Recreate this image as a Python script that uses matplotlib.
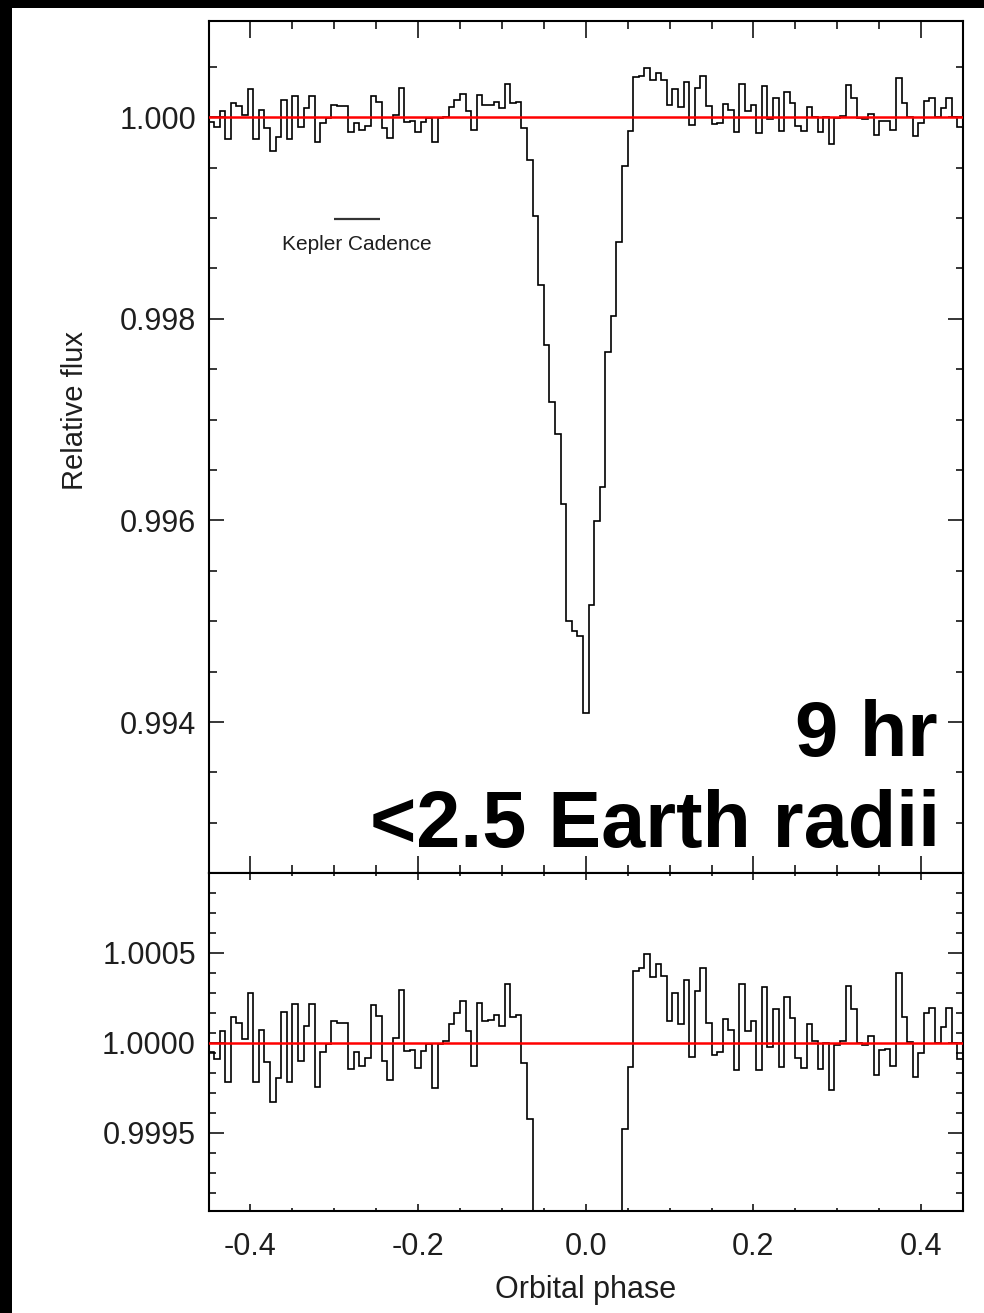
import numpy as np
import matplotlib
matplotlib.use("Agg")
import matplotlib.pyplot as plt
from matplotlib.patches import Rectangle
from matplotlib.ticker import FixedLocator, MultipleLocator

plt.rcParams['font.family'] = ['Liberation Sans', 'DejaVu Sans']

# Phase-folded light curve: 135 bins of width 1/150 in orbital phase
phase_min, phase_max = -0.45, 0.45
n_bins = 135

# Deviation from unit relative flux, in parts per million
pre_transit_ppm = [
    -50, -93, 65, -217, 141, 111, 20, 278, -217, 70,
    -106, -330, -196, 170, -217, 215, -100, 91, 215, -246,
    -52, -6, 119, 109, 109, -144, -52, -131, -85, 211,
    148, -102, -206, 26, 293, -46, -41, -143, -46, -7,
    -250, -6, 7, 102, 167, 230, 65, -131, 220, 122,
    124, 152, 91, 326, 144, 152, -111,
]
transit_ppm = [
    -422, -980, -1664, -2258, -2820, -3140, -3836, -5000, -5095, -5148,
    -5914, -4837, -4009, -3668, -2329, -1972, -1234, -480, -137,
]
post_transit_ppm = [
    398, 413, 493, 367, 435, 369, 122, 276, 102, 350,
    -78, 287, 413, 109, -70, -52, 133, 69, -150, 328,
    65, 119, -152, 307, -22, 187, -133, 252, 139, -87,
    -141, 102, 7, -144, 0, -265, -11, 9, 317, 187,
    -4, -13, 37, -180, -41, -37, -130, 389, 144, 6,
    -189, -56, 163, 194, 0, 89, 194, 0, -93,
]

flux = 1.0 + 1e-6 * np.array(pre_transit_ppm + transit_ppm + post_transit_ppm, dtype=float)
edges = np.linspace(phase_min, phase_max, n_bins + 1)

x_major = [-0.4, -0.2, 0.0, 0.2, 0.4]
x_labels = ['-0.4', '-0.2', '0.0', '0.2', '0.4']
top_yticks = [0.994, 0.996, 0.998, 1.000]
top_ylabels = ['0.994', '0.996', '0.998', '1.000']
bot_yticks = [0.9995, 1.0000, 1.0005]
bot_ylabels = ['0.9995', '1.0000', '1.0005']

top_ylim = (0.9925, 1.000955)
bot_ylim = (0.999065, 1.000941)

cadence_bar = [-0.300, -0.246]   # Kepler long cadence, in phase units
cadence_level = 0.99899

W, H = 984, 1313
fig = plt.figure(figsize=(W / 100, H / 100), dpi=100, facecolor='black')
fig.add_artist(Rectangle((12 / W, 0), 1, 1 - 8 / H, transform=fig.transFigure,
                         facecolor='white', edgecolor='none', zorder=-10))


def px_box(x0, y0, x1, y1):
    return [x0 / W, 1 - y1 / H, (x1 - x0) / W, (y1 - y0) / H]


ax_top = fig.add_axes(px_box(208.5, 21, 963, 873.3))
ax_bot = fig.add_axes(px_box(208.5, 873.3, 963, 1211))

label_color = '#1e1e1e'

for ax in (ax_top, ax_bot):
    ax.stairs(flux, edges, baseline=None, color='black', lw=1.2, zorder=2)
    ax.axhline(1.0, color='red', lw=1.8, zorder=3)
    ax.set_xlim(phase_min, phase_max)
    ax.xaxis.set_major_locator(FixedLocator(x_major))
    ax.xaxis.set_minor_locator(MultipleLocator(0.05))
    for sp in ax.spines.values():
        sp.set_linewidth(1.5)
        sp.set_color('black')
    ax.tick_params(axis='both', which='both', direction='in', top=True,
                   right=True, colors='black', labelcolor=label_color,
                   labelsize=22, width=1.1)

# upper panel: full transit
ax_top.set_ylim(*top_ylim)
ax_top.set_yticks(top_yticks)
ax_top.set_yticklabels(top_ylabels)
ax_top.yaxis.set_minor_locator(MultipleLocator(0.0005))
ax_top.tick_params(axis='x', which='major', length=12.2, labelbottom=False)
ax_top.tick_params(axis='x', which='minor', length=6.1)
ax_top.tick_params(axis='y', which='major', length=10.8, pad=9)
ax_top.tick_params(axis='y', which='minor', length=5.4)

ax_top.plot(cadence_bar, [cadence_level] * 2, color='#333333', lw=1.6,
            solid_capstyle='butt', zorder=4)
ax_top.text(np.mean(cadence_bar), 0.998734, 'Kepler Cadence',
            ha='center', va='center', fontsize=15, color=label_color)

# lower panel: zoom on the out-of-transit baseline
ax_bot.set_ylim(*bot_ylim)
ax_bot.set_yticks(bot_yticks)
ax_bot.set_yticklabels(bot_ylabels)
ax_bot.yaxis.set_minor_locator(FixedLocator(0.9995 + np.arange(-6, 24) * 0.001 / 9))
ax_bot.set_xticklabels(x_labels)
ax_bot.tick_params(axis='x', which='major', length=4.8, pad=15)
ax_bot.tick_params(axis='x', which='minor', length=2.4)
ax_bot.tick_params(axis='y', which='major', length=10.8, pad=9)
ax_bot.tick_params(axis='y', which='minor', length=5.3)

fig.text(75 / W, 1 - 410 / H, 'Relative flux', rotation=90, ha='center',
         va='center', fontsize=21, color=label_color)
fig.text(585.75 / W, 1 - 1290 / H, 'Orbital phase', ha='center', va='center',
         fontsize=22, color=label_color)

fig.text(938 / W, 1 - 756 / H, '9 hr', ha='right', va='baseline',
         fontsize=56, fontweight='bold', color='black')
fig.text(940 / W, 1 - 847 / H, '<2.5 Earth radii', ha='right', va='baseline',
         fontsize=57, fontweight='bold', color='black')

fig.savefig('out.png', dpi=100, facecolor=fig.get_facecolor())
